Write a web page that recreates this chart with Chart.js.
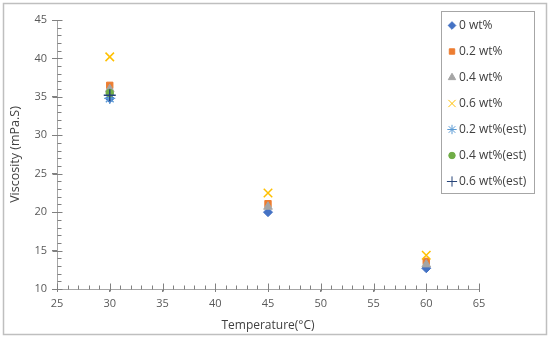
<!DOCTYPE html>
<html><head><meta charset="utf-8">
<script src="https://cdn.jsdelivr.net/npm/chart.js@4"></script>
<style>html,body{margin:0;padding:0;background:#fff}#wrap{width:550px;height:340px;position:relative}</style>
</head><body><div id="wrap"><canvas id="c" width="550" height="340"></canvas></div>
<script>
const temperatures = [30, 45, 60];
const estTemperatures = [30];
const visc0 = [34.8, 20.0, 12.7];
const visc02 = [36.5, 21.1, 13.6];
const visc04 = [36.0, 20.7, 13.2];
const visc06 = [40.2, 22.5, 14.4];
const visc02est = [34.8];
const visc04est = [35.5];
const visc06est = [35.2];
const xTicks = [25, 30, 35, 40, 45, 50, 55, 60, 65];
const yTicks = [10, 15, 20, 25, 30, 35, 40, 45];
const seriesLabels = ['0 wt%', '0.2 wt%', '0.4 wt%', '0.6 wt%', '0.2 wt%(est)', '0.4 wt%(est)', '0.6 wt%(est)'];

function pts(xs, ys){ return xs.map((x,i)=>({x:x, y:ys[i]})); }

const styles = [
  {pointStyle:'rectRot', color:'#4472C4', r:4.5, bw:1},
  {pointStyle:'rect', color:'#ED7D31', r:4.5, bw:1},
  {pointStyle:'triangle', color:'#A5A5A5', r:5, bw:1},
  {pointStyle:'crossRot', color:'#FFC000', r:6, bw:1.5},
  {pointStyle:'star', color:'#5B9BD5', r:5.5, bw:1.3},
  {pointStyle:'circle', color:'#70AD47', r:3.8, bw:1},
  {pointStyle:'cross', color:'#264478', r:6, bw:1.5}
];
const dataArrs = [pts(temperatures,visc0), pts(temperatures,visc02), pts(temperatures,visc04), pts(temperatures,visc06),
  pts(estTemperatures,visc02est), pts(estTemperatures,visc04est), pts(estTemperatures,visc06est)];

const datasets = dataArrs.map((d,i)=>({
  label: seriesLabels[i], data: d, showLine:false,
  pointStyle: styles[i].pointStyle, pointRadius: styles[i].r, pointHoverRadius: styles[i].r,
  backgroundColor: styles[i].color, borderColor: styles[i].color, pointBorderWidth: styles[i].bw
}));
datasets.forEach((d,i)=>{ d.order = 10 - i; });

const extras = {
  id:'extras',
  afterDraw(chart){
    const ctx = chart.ctx, xs = chart.scales.x, ys = chart.scales.y;
    const x0 = Math.round(xs.left) + 0.5, yb = Math.round(ys.bottom) + 0.5;
    ctx.save();
    ctx.strokeStyle = '#808080'; ctx.lineWidth = 1;
    ctx.beginPath();
    for (let v = 10; v <= 45; v += 1) {
      const py = Math.round(ys.getPixelForValue(v)) + 0.5;
      if (v % 5 === 0) { ctx.moveTo(x0 - 5, py); ctx.lineTo(x0 + 5, py); }
      else { ctx.moveTo(x0, py); ctx.lineTo(x0 + 4, py); }
    }
    for (let v = 25; v <= 65; v += 1) {
      const px = Math.round(xs.getPixelForValue(v)) + 0.5;
      if (v % 5 === 0) { ctx.moveTo(px, yb - 6); ctx.lineTo(px, yb + 2); }
      else { ctx.moveTo(px, yb); ctx.lineTo(px, yb - 4); }
    }
    ctx.stroke();
    // outer border
    ctx.strokeStyle = '#BFBFBF'; ctx.lineWidth = 1.5;
    ctx.strokeRect(3.5, 3.5, 543, 331);
    // legend
    const lx = 441.5, ly = 11.5, lw = 93, lh = 182;
    ctx.fillStyle = '#fff'; ctx.fillRect(lx, ly, lw, lh);
    ctx.strokeStyle = '#A6A6A6'; ctx.lineWidth = 1;
    ctx.strokeRect(lx, ly, lw, lh);
    ctx.font = '12px "Open Sans"'; ctx.textBaseline = 'middle'; ctx.textAlign = 'left';
    chart.data.datasets.forEach((d,i)=>{
      const cy = 25.5 + i*26;
      ctx.fillStyle = d.backgroundColor; ctx.strokeStyle = d.borderColor;
      Chart.helpers.drawPoint(ctx, {pointStyle:d.pointStyle, radius:d.pointRadius*0.85, borderWidth:d.pointBorderWidth, rotation:0}, 452, cy);
      ctx.fillStyle = '#404040';
      ctx.fillText(d.label, 459, cy + 0.5);
    });
    ctx.restore();
  }
};

new Chart(document.getElementById('c'), {
  type:'scatter',
  data:{datasets},
  options:{
    responsive:false, animation:false, events:[],
    layout:{padding:{left:8, right:71, top:20, bottom:7}},
    plugins:{legend:{display:false}, tooltip:{enabled:false}},
    scales:{
      x:{type:'linear', min:25, max:65,
        afterBuildTicks(s){ s.ticks = xTicks.map(v=>({value:v})); },
        afterFit(s){ s.height = 44; },
        grid:{display:true, drawOnChartArea:false, drawTicks:true, tickLength:3, color:'#808080'},
        border:{display:true, color:'#A6A6A6', width:1},
        ticks:{color:'#595959', font:{family:'"Open Sans"', size:11}, padding:5},
        title:{display:true, text:'Temperature(°C)', color:'#404040', font:{family:'"Open Sans"', size:12}, padding:{top:0, bottom:0}}
      },
      y:{type:'linear', min:10, max:45,
        afterBuildTicks(s){ s.ticks = yTicks.map(v=>({value:v})); },
        afterFit(s){ s.width = 49; },
        grid:{display:true, drawOnChartArea:false, drawTicks:true, tickLength:5, color:'#808080'},
        border:{display:true, color:'#A6A6A6', width:1},
        ticks:{color:'#595959', font:{family:'"Open Sans"', size:11}, padding:5},
        title:{display:true, text:'Viscosity (mPa.S)', color:'#404040', font:{family:'"Open Sans"', size:12.5}, padding:{top:0, bottom:0}}
      }
    }
  },
  plugins:[extras]
});
</script></body></html>
